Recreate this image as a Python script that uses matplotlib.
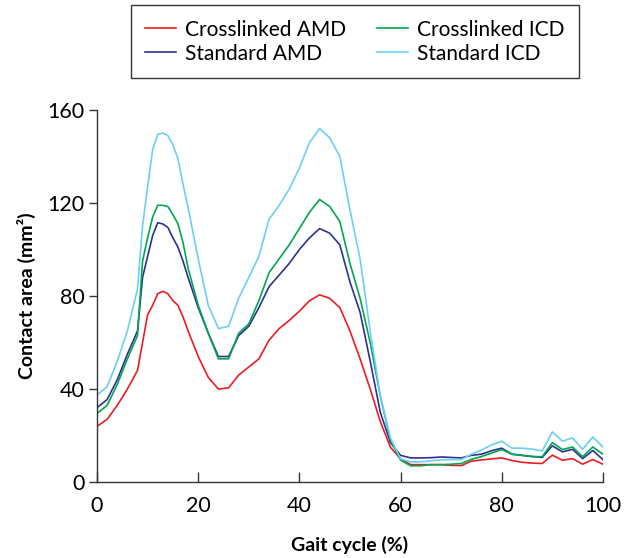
import numpy as np
import matplotlib
matplotlib.use("Agg")
import matplotlib.pyplot as plt

plt.rcParams['font.family'] = ['Lato', 'DejaVu Sans']

# gait cycle (%) sample points
gait = [0, 2, 4, 6, 8, 9, 10, 11, 12, 13, 14, 15, 16, 17, 18, 20, 22, 24, 26, 28,
        30, 32, 34, 36, 38, 40, 42, 44, 46, 48, 50, 52, 54, 56, 58, 60, 62, 64, 66,
        68, 70, 72, 74, 76, 78, 80, 82, 84, 86, 88, 90, 92, 94, 96, 98, 100]

crosslinked_amd = [24, 27, 33, 40, 48, 60, 72, 76, 81, 82, 81, 78, 76, 71, 65, 54, 45, 40, 40.5, 46,
                   49.5, 53, 61, 66, 69.5, 73.5, 78, 80.5, 79, 75, 65, 53, 40, 26, 15, 10, 7.5, 7.5, 7.5,
                   7.5, 7.2, 7.1, 9, 9.5, 10, 10.4, 9.3, 8.5, 8.2, 8, 11.6, 9.4, 10.1, 7.7, 9.7, 7.7]

standard_amd = [32, 35.5, 44, 55, 65, 88, 97, 106, 111.5, 111, 109.5, 105, 101, 95, 88, 75, 64, 54, 54, 63,
                67, 75, 84, 89, 94, 100, 105, 109, 107, 102, 86, 73, 52, 30, 17, 11.5, 10.4, 10.4, 10.5,
                10.8, 10.6, 10.4, 11.5, 12, 13.5, 14.6, 12, 11.5, 11, 10.6, 15.6, 13, 14.1, 10.1, 13.6, 9.7]

crosslinked_icd = [29.5, 33, 42, 53, 63, 95, 105, 114, 119, 119, 118.5, 115, 111, 103, 92, 76, 64, 53, 53, 64,
                   68, 78, 90, 96, 102, 109, 116, 121.5, 118.5, 112, 94, 79, 60, 37, 18, 9.5, 7, 7, 7.5,
                   7.5, 7.7, 8, 9.8, 11, 12.5, 14, 12, 11.5, 11, 10.9, 17, 14, 15.1, 10.9, 15.1, 12]

standard_icd = [37.5, 41, 52, 65, 83, 110, 127, 143, 149.5, 150, 149, 145, 139, 128, 118, 96, 76, 66, 67, 79,
                88, 97, 113, 119, 126, 135, 146, 152, 148, 140, 117, 96, 65, 37, 19, 10, 8.7, 8.7, 9.2,
                9.5, 9.7, 9.7, 12, 13.8, 16, 17.6, 14.6, 14.6, 14.2, 13.4, 21.6, 17.6, 19, 14.1, 19.4, 15.1]

fig = plt.figure(figsize=(6.3, 5.58), dpi=100)
ax = fig.add_axes([0.154, 0.136, 0.803, 0.667])

l1, = ax.plot(gait, crosslinked_amd, color='#ec1c24', lw=1.2, label='Crosslinked AMD')
l2, = ax.plot(gait, standard_amd, color='#2e3192', lw=1.2, label='Standard AMD')
l3, = ax.plot(gait, crosslinked_icd, color='#00a651', lw=1.2, label='Crosslinked ICD')
l4, = ax.plot(gait, standard_icd, color='#6dcff6', lw=1.2, label='Standard ICD')

ax.set_xlim(0, 100)
ax.set_ylim(0, 160)
ax.set_xticks(np.arange(0, 101, 20))
ax.set_yticks(np.arange(0, 161, 40))
ax.spines['top'].set_visible(False)
ax.spines['right'].set_visible(False)
for s in ['left', 'bottom']:
    ax.spines[s].set_color('#333333')
    ax.spines[s].set_linewidth(1.0)
ax.tick_params(axis='y', direction='out', length=6, width=1, color='#333333', labelsize=15.5, pad=3)
ax.tick_params(axis='x', direction='in', length=7, width=1, color='#333333', labelsize=15.5, pad=10)
ax.set_xlabel('Gait cycle (%)', fontsize=14, fontweight='bold', labelpad=14)
ax.set_ylabel('Contact area (mm²)', fontsize=14, fontweight='bold', labelpad=8)

fig.legend(handles=[l1, l2, l3, l4], ncol=2, loc='upper center',
           bbox_to_anchor=(0.563, 0.991), borderaxespad=0, frameon=True, fancybox=False,
           edgecolor='black', fontsize=15, handlelength=1.5, handletextpad=0.4,
           columnspacing=1.5, labelspacing=0.2, borderpad=0.7)

fig.savefig('out.png', dpi=100)
